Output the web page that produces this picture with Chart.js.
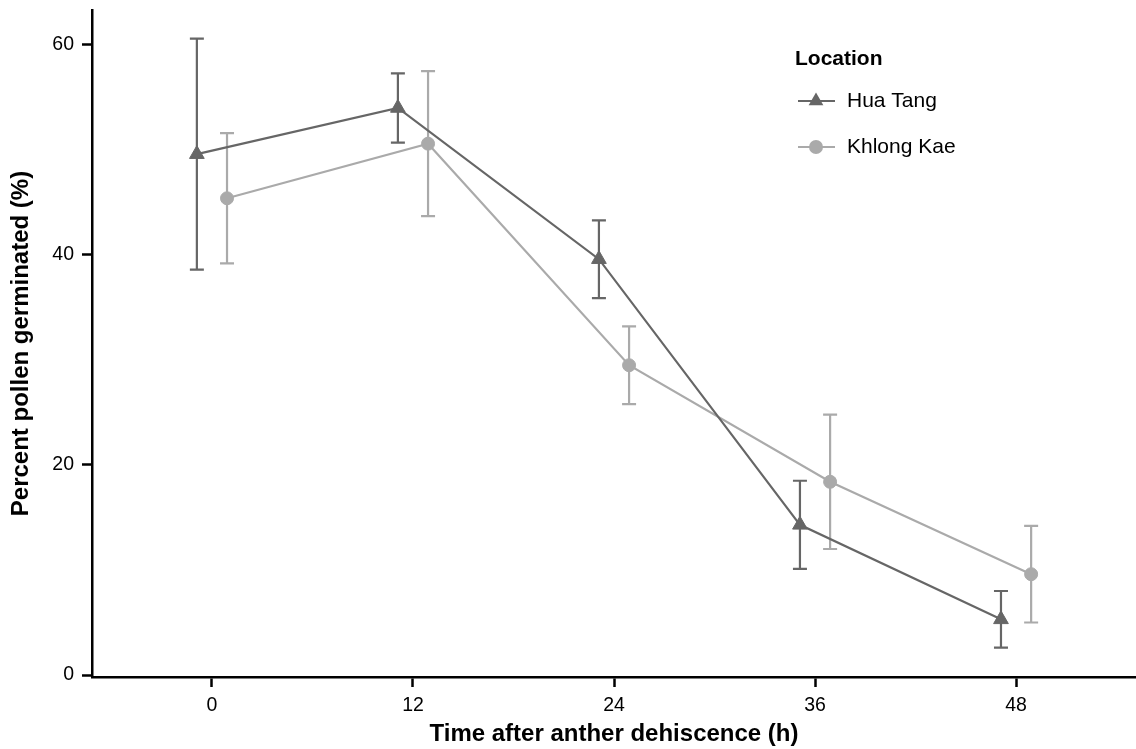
<!DOCTYPE html>
<html lang="en">
<head>
  <meta charset="UTF-8" />
  <title>Pollen germination</title>
  <script src="https://cdn.jsdelivr.net/npm/chart.js"></script>
  <style>
    html, body { margin: 0; padding: 0; background: #fff; }
    #wrap { width: 1136px; height: 749px; }
  </style>
</head>
<body>
  <div id="wrap"><canvas id="pollenChart" width="1136" height="749"></canvas></div>

  <script>
    const hours = [0, 12, 24, 36, 48];
    const huaTangMean = [49.6, 54.0, 39.6, 14.3, 5.3];
    const huaTangSE = [11.0, 3.3, 3.7, 4.2, 2.7];
    const khlongKaeMean = [45.4, 50.6, 29.5, 18.4, 9.6];
    const khlongKaeSE = [6.2, 6.9, 3.7, 6.4, 4.6];
    const xTicks = [0, 12, 24, 36, 48];
    const yTicks = [0, 20, 40, 60];

    const DARK = '#666666';
    const LIGHT = '#aaaaaa';
    const FONT = "'Liberation Sans', Arial, sans-serif";
    const dodge = 0.9; // position_dodge look

    function toPoints(mean, shift) {
      return hours.map((h, i) => ({ x: h + shift, y: mean[i] }));
    }

    // error bars drawn under the lines and points
    const errorBars = {
      id: 'errorBars',
      beforeDatasetsDraw(chart) {
        const { ctx, scales: { x, y } } = chart;
        ctx.save();
        chart.data.datasets.forEach(ds => {
          ctx.strokeStyle = ds.borderColor;
          ctx.lineWidth = 2.2;
          ds.data.forEach((p, i) => {
            const px = x.getPixelForValue(p.x);
            const top = y.getPixelForValue(p.y + ds.se[i]);
            const bot = y.getPixelForValue(p.y - ds.se[i]);
            ctx.beginPath();
            ctx.moveTo(px, top); ctx.lineTo(px, bot);
            ctx.moveTo(px - 7, top); ctx.lineTo(px + 7, top);
            ctx.moveTo(px - 7, bot); ctx.lineTo(px + 7, bot);
            ctx.stroke();
          });
        });
        ctx.restore();
      }
    };

    // ggplot-like legend inside the panel
    const insideLegend = {
      id: 'insideLegend',
      afterDraw(chart) {
        const ctx = chart.ctx;
        ctx.save();
        ctx.fillStyle = '#000';
        ctx.textBaseline = 'middle';
        ctx.font = 'bold 21px ' + FONT;
        ctx.fillText('Location', 795, 59);
        ctx.font = '21px ' + FONT;
        const rows = [101, 147];
        chart.data.datasets.forEach((ds, k) => {
          const yy = rows[k];
          ctx.strokeStyle = ds.borderColor;
          ctx.lineWidth = 2.2;
          ctx.beginPath();
          ctx.moveTo(798, yy); ctx.lineTo(835, yy);
          ctx.stroke();
          ctx.fillStyle = ds.borderColor;
          ctx.beginPath();
          if (ds.pointStyle === 'triangle') {
            const r = 8.5;
            for (let a = 0; a < 3; a++) {
              const ang = a * 2 * Math.PI / 3;
              const vx = 816 + Math.sin(ang) * r, vy = yy - Math.cos(ang) * r;
              if (a === 0) ctx.moveTo(vx, vy); else ctx.lineTo(vx, vy);
            }
            ctx.closePath();
          } else {
            ctx.arc(816, yy, 7, 0, Math.PI * 2);
          }
          ctx.fill();
          ctx.fillStyle = '#000';
          ctx.fillText(ds.label, 847, yy);
        });
        ctx.restore();
      }
    };

    // keep the panel edges where the reference has them
    function noEdgePadding(s) {
      s.paddingLeft = 0;
      s.paddingRight = 0;
      s.paddingTop = 0;
      s.paddingBottom = 0;
    }

    const ctx = document.getElementById('pollenChart').getContext('2d');
    new Chart(ctx, {
      type: 'line',
      data: {
        datasets: [
          {
            label: 'Hua Tang',
            data: toPoints(huaTangMean, -dodge),
            se: huaTangSE,
            borderColor: DARK,
            backgroundColor: DARK,
            borderWidth: 2.2,
            pointStyle: 'triangle',
            pointRadius: 8.5,
            pointBorderWidth: 1,
            tension: 0
          },
          {
            label: 'Khlong Kae',
            data: toPoints(khlongKaeMean, dodge),
            se: khlongKaeSE,
            borderColor: LIGHT,
            backgroundColor: LIGHT,
            borderWidth: 2.2,
            pointStyle: 'circle',
            pointRadius: 6.5,
            pointBorderWidth: 1,
            tension: 0
          }
        ]
      },
      options: {
        responsive: false,
        animation: false,
        devicePixelRatio: 1,
        layout: { autoPadding: false, padding: { top: 10, right: 0, bottom: 0, left: 0 } },
        plugins: {
          legend: { display: false },
          tooltip: { enabled: false }
        },
        scales: {
          x: {
            type: 'linear',
            min: -7.16,
            max: 55.16,
            afterBuildTicks: s => { s.ticks = xTicks.map(v => ({ value: v })); },
            afterFit: s => { s.height = 72; noEdgePadding(s); },
            grid: { drawOnChartArea: false, tickLength: 10, tickColor: '#000', tickWidth: 2.5 },
            border: { color: '#000', width: 2.5 },
            ticks: { color: '#000', padding: 7, font: { family: FONT, size: 19.5 } },
            title: {
              display: true,
              text: 'Time after anther dehiscence (h)',
              color: '#000',
              padding: { top: 0, bottom: 0 },
              font: { family: FONT, size: 24, weight: 'bold' }
            }
          },
          y: {
            min: -0.19,
            max: 63.33,
            afterBuildTicks: s => { s.ticks = yTicks.map(v => ({ value: v })); },
            afterFit: s => { s.width = 92; noEdgePadding(s); },
            grid: { drawOnChartArea: false, tickLength: 10, tickColor: '#000', tickWidth: 2.5 },
            border: { color: '#000', width: 2.5 },
            ticks: { color: '#000', padding: 8, font: { family: FONT, size: 19.5 } },
            title: {
              display: true,
              text: 'Percent pollen germinated (%)',
              color: '#000',
              padding: { top: 7, bottom: 0 },
              font: { family: FONT, size: 24, weight: 'bold' }
            }
          }
        }
      },
      plugins: [errorBars, insideLegend]
    });
  </script>
</body>
</html>
